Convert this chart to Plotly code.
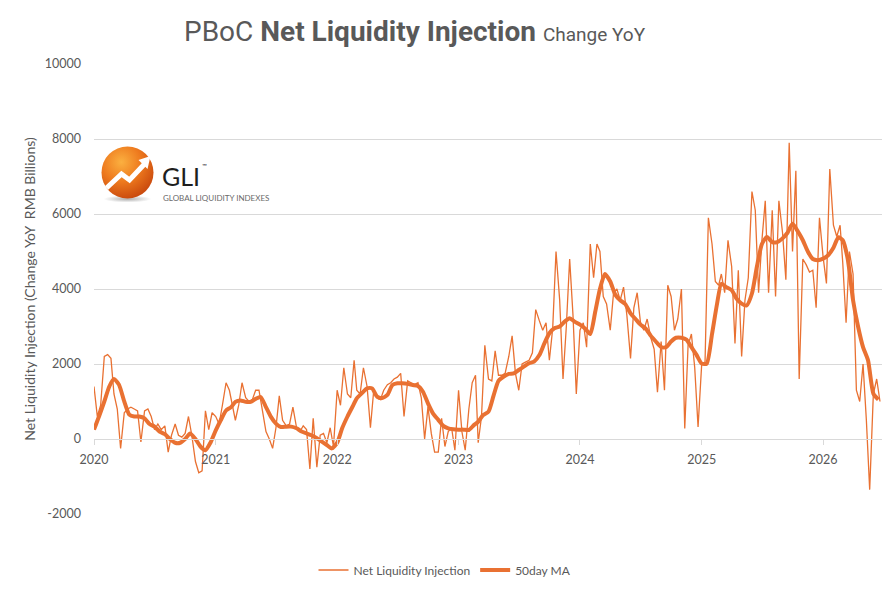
import base64
import pandas as pd
import plotly.graph_objects as go

# ---------------- data ----------------
# raw series: values on the 1st, 11th, 21st of each month
raw_2020 = [1400, 600, 900, 2200, 2250, 2150, 1200, 800, -250, 700, 800, 850,
            800, 750, -80, 750, 800, 600, 250, 400, 250, 350, -350, 100,
            400, 100, 50, 150, 600, 100, -600, -900, -850, 750, 250, 700]
raw_2021 = [600, 400, 900, 1500, 1300, 800, 500, 900, 1500, 1100, 1000, 1050,
            1300, 1300, 800, 200, 0, -250, 300, 1150, 500, 350, 400, 850,
            300, 200, 350, 250, -800, 550, -750, 100, 150, -100, 300, -200]
raw_2022 = [1300, 900, 1900, 1200, 1100, 2100, 1300, 1200, 1900, 1400, 300, 1300,
            1100, 1050, 1300, 1450, 1500, 1600, 1650, 1750, 600, 1550, 1500, 1450,
            1500, 1100, 0, 850, 150, -350, -350, 550, -200, 200, 300, -300]
raw_2023 = [1300, 200, -300, 800, 1500, 1700, -100, 600, 2500, 1600, 1550, 2350,
            1700, 1700, 1750, 2200, 2750, 1750, 1300, 2000, 2050, 2100, 2300, 3450,
            3150, 2900, 3100, 2100, 2950, 5000, 3700, 1600, 3000, 4800, 3300, 1200]
raw_2024 = [2900, 3100, 2450, 5200, 4300, 5200, 5000, 3800, 3600, 2900, 3900, 4000,
            3700, 4050, 3300, 2150, 3500, 3900, 3100, 2900, 3200, 2700, 2400, 1250,
            2600, 1300, 4100, 3800, 2900, 3200, 4000, 280, 2500, 2800, 1900, 320]
raw_2025 = [2000, 2050, 5900, 5200, 4200, 4100, 4400, 3900, 5300, 4600, 2550, 4500,
            2200, 3700, 4300, 6600, 6100, 3900, 5300, 6350, 3900, 6100, 3800, 6350,
            5500, 4250, 7900, 5000, 7150, 1600, 4800, 4650, 4450, 4500, 3500, 5900]
raw_2026 = [4850, 4150, 7200, 5700, 5400, 5700, 4700, 3100, 5000, 4400, 1300, 1000,
            2000, 500, -1350, 1200, 1600, 1000]

# 50-day moving average: values on the 1st and 16th of each month
ma_2020 = [250, 600, 1000, 1400, 1600, 1450, 1000, 650, 600, 600, 550, 400,
           330, 200, 130, 0, -100, -100, 0, 150, 0, -200, -300, -100]
ma_2021 = [230, 500, 760, 850, 990, 1030, 990, 990, 1070, 1120, 850, 590,
           410, 320, 330, 330, 285, 200, 150, 100, 20, -70, -160, -250]
ma_2022 = [-100, 285, 600, 860, 1085, 1220, 1350, 1350, 1130, 1090, 1175, 1440,
           1485, 1485, 1470, 1440, 1415, 1260, 950, 685, 510, 350, 285, 260]
ma_2023 = [250, 250, 240, 370, 460, 640, 730, 1150, 1550, 1660, 1735, 1750,
           1840, 1930, 2020, 2065, 2240, 2550, 2820, 2955, 3000, 3130, 3220, 3130]
ma_2024 = [3050, 2950, 2800, 3400, 4000, 4400, 4200, 3850, 3700, 3600, 3350, 3200,
           3050, 2950, 2750, 2600, 2450, 2450, 2600, 2700, 2700, 2650, 2450, 2250]
ma_2025 = [2010, 2010, 2800, 3600, 4140, 4050, 3970, 3740, 3610, 3560, 3880, 4600,
           5200, 5390, 5250, 5250, 5350, 5500, 5740, 5550, 5300, 5000, 4800, 4770]
ma_2026 = [4810, 4900, 5100, 5380, 5300, 4800, 3700, 3000, 2450, 2100, 1210, 1050]

y_ticks = [-2000, 0, 2000, 4000, 6000, 8000, 10000]
y_tick_labels = ["-2000", "0", "2000", "4000", "6000", "8000", "10000"]

years = [2020, 2021, 2022, 2023, 2024, 2025, 2026]
raw_by_year = [raw_2020, raw_2021, raw_2022, raw_2023, raw_2024, raw_2025, raw_2026]
ma_by_year = [ma_2020, ma_2021, ma_2022, ma_2023, ma_2024, ma_2025, ma_2026]

TITLE_MAIN = "PBoC"
TITLE_BOLD = "Net Liquidity Injection"
TITLE_SUB = "Change YoY"
Y_TITLE = "Net Liquidity Injection (Change YoY\u00a0 RMB Billions)"
SERIES_RAW = "Net Liquidity Injection"
SERIES_MA = "50day MA"


def dates_for(year, n, days):
    out = []
    per = len(days)
    for i in range(n):
        out.append(pd.Timestamp(year, i // per + 1, days[i % per]))
    return out


raw_x, raw_y, ma_x, ma_y = [], [], [], []
for yr, vals in zip(years, raw_by_year):
    raw_x += dates_for(yr, len(vals), [1, 11, 21])
    raw_y += vals
for yr, vals in zip(years, ma_by_year):
    ma_x += dates_for(yr, len(vals), [1, 16])
    ma_y += vals

# ---------------- layout geometry ----------------
W, H = 890, 593
L, R, T, B = 94, 882, 64, 514
PW, PH = R - L, B - T


def px(x):
    return (x - L) / PW


def py(y):
    return (B - y) / PH


ORANGE = "#E97132"
GREY = "#595959"
GRID = "#D9D9D9"
FONT = "Lato, 'Open Sans', sans-serif"

fig = go.Figure()
fig.add_trace(go.Scatter(x=raw_x, y=raw_y, mode="lines", name=SERIES_RAW,
                         line=dict(color=ORANGE, width=1.3)))
fig.add_trace(go.Scatter(x=ma_x, y=ma_y, mode="lines", name=SERIES_MA,
                         line=dict(color=ORANGE, width=4, shape="spline", smoothing=0.6)))

fig.update_layout(
    width=W, height=H, autosize=False,
    margin=dict(l=L, r=W - R, t=T, b=H - B),
    paper_bgcolor="white", plot_bgcolor="white",
    font=dict(family=FONT, color=GREY, size=12),
    showlegend=True,
    legend=dict(orientation="h", xref="container", yref="container",
                x=0.5, xanchor="center", y=(H - 570) / H, yanchor="middle",
                font=dict(size=12, color=GREY), itemwidth=30,
                bgcolor="rgba(0,0,0,0)"),
    xaxis=dict(type="date", range=["2020-01-01", "2026-06-27"],
               tickformat="%Y", dtick="M12", tick0="2020-01-01",
               showgrid=False, zeroline=False,
               showline=True, linecolor=GRID, linewidth=1,
               ticks="outside", ticklen=5, tickcolor=GRID, ticklabelstandoff=4,
               anchor="free", position=py(439),
               tickfont=dict(size=12.5, color=GREY, family=FONT)),
    yaxis=dict(range=[-2000, 10000], tickmode="array", tickvals=y_ticks,
               ticktext=y_tick_labels,
               showgrid=True, gridcolor=GRID, gridwidth=1, zeroline=False,
               showline=False, ticks="", ticklabelstandoff=12,
               tickfont=dict(size=12.5, color=GREY, family=FONT),
               title=dict(text=Y_TITLE, standoff=5,
                          font=dict(size=14, color=GREY, family=FONT))),
)

# title
fig.add_annotation(
    xref="paper", yref="paper", x=px(414.5), y=py(31), xanchor="center", yanchor="middle",
    showarrow=False,
    text=(f"{TITLE_MAIN} <b>{TITLE_BOLD}</b> "
          f"<span style='font-size:19px'>{TITLE_SUB}</span>"),
    font=dict(family="'Liberation Sans Narrow', 'Roboto', sans-serif", size=28, color=GREY),
)

# logo graphic (sphere with rising arrow)
svg = """<svg xmlns='http://www.w3.org/2000/svg' width='60' height='60' viewBox='0 0 60 60'>
<defs><radialGradient id='g' cx='38%' cy='30%' r='75%'>
<stop offset='0' stop-color='#FBB040'/><stop offset='0.5' stop-color='#EE7A1E'/>
<stop offset='1' stop-color='#C7460C'/></radialGradient>
<radialGradient id='s' cx='50%' cy='50%' r='50%'>
<stop offset='0' stop-color='#777' stop-opacity='0.6'/><stop offset='1' stop-color='#777' stop-opacity='0'/></radialGradient></defs>
<ellipse cx='30' cy='56' rx='24' ry='3.5' fill='url(#s)'/>
<circle cx='30' cy='29.5' r='26' fill='url(#g)'/>
<path d='M 9 45 L 24 31 L 32 37 L 47 21' stroke='white' stroke-width='5' fill='none' stroke-linejoin='miter'/>
<polygon points='41,17 53,13 50,26' fill='white'/>
</svg>"""
uri = "data:image/svg+xml;base64," + base64.b64encode(svg.encode()).decode()
fig.add_layout_image(dict(source=uri, xref="paper", yref="paper",
                          x=px(97.5), y=py(143), sizex=60 / PW, sizey=60 / PH,
                          xanchor="left", yanchor="top", sizing="stretch", layer="above"))

fig.add_annotation(xref="paper", yref="paper", x=px(160), y=py(175.5), xanchor="left",
                   yanchor="middle", showarrow=False, text="GLI",
                   font=dict(family="Lato, sans-serif", size=25, color="#1E1E1E"))
fig.add_annotation(xref="paper", yref="paper", x=px(200), y=py(165), xanchor="left",
                   yanchor="middle", showarrow=False, text="™",
                   font=dict(family="Lato, sans-serif", size=6, color="#1E1E1E"))
fig.add_annotation(xref="paper", yref="paper", x=px(160.5), y=py(198), xanchor="left",
                   yanchor="middle", showarrow=False, text="GLOBAL LIQUIDITY INDEXES",
                   font=dict(family="Lato, sans-serif", size=8, color="#6A6A6A"))

fig.write_html("out.html")
